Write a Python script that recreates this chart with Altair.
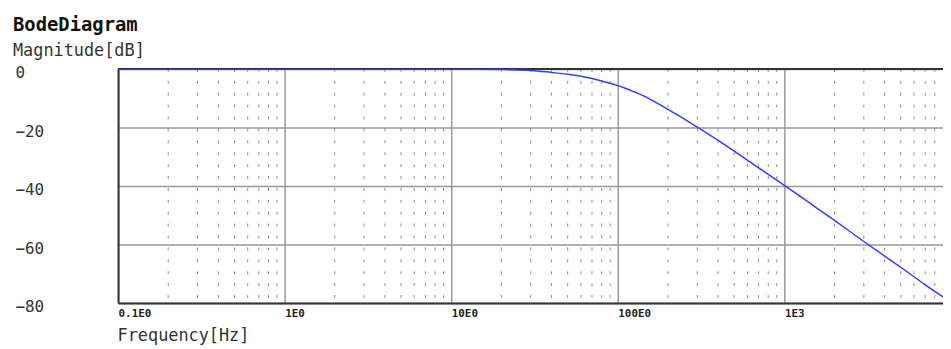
import altair as alt
import pandas as pd

# ---- data ----
freq_hz = [0.1, 1, 10, 20, 30, 40, 50, 60, 70, 80, 90, 100, 110, 120, 130,
           150, 170, 200, 250, 300, 350, 400, 500, 700, 1000, 1500, 2000,
           3000, 4000, 5000, 7000, 8958]
mag_db = [0, 0, 0, -0.2, -0.5, -1.2, -1.8, -2.5, -3.3, -4.1, -4.9, -5.7,
          -6.5, -7.4, -8.2, -9.8, -11.5, -13.8, -17.1, -19.9, -22.3, -24.4,
          -28.1, -33.8, -39.8, -46.8, -51.8, -59.0, -64.0, -67.8, -73.8,
          -77.9]

x_major_ticks = [0.1, 1, 10, 100, 1000]
x_tick_labels = ["0.1E0", "1E0", "10E0", "100E0", "1E3"]
x_minor_grid = [0.2, 0.3, 0.4, 0.5, 0.6, 0.7, 0.8, 0.9,
                2, 3, 4, 5, 6, 7, 8, 9,
                20, 30, 40, 50, 60, 70, 80, 90,
                200, 300, 400, 500, 600, 700, 800, 900,
                2000, 3000, 4000, 5000, 6000, 7000, 8000]
y_ticks = [0, -20, -40, -60, -80]
x_domain = [0.1, 8958]
y_domain = [-80, 0]

curve = pd.DataFrame({"f": freq_hz, "db": mag_db})
minor = pd.DataFrame({"f": x_minor_grid})

MONO = "DejaVu Sans Mono"
xscale = alt.Scale(type="log", domain=x_domain, nice=False)
yscale = alt.Scale(domain=y_domain, nice=False)

label_expr = ("[" + ",".join(f"'{s}'" for s in x_tick_labels) +
              "][round(log(datum.value)/LN10)+1]")

x_axis = alt.Axis(values=x_major_ticks, labelExpr=label_expr,
                  grid=True, gridColor="#999999", gridWidth=1.5,
                  ticks=False, tickSize=0,
                  domainColor="#333333", domainWidth=2,
                  labelAlign="left", labelBaseline="middle",
                  labelPadding=11, labelFont=MONO,
                  labelFontWeight="bold", labelFontSize=11,
                  labelColor="#222222", labelFlush=False,
                  labelOverlap=False,
                  title="Frequency[Hz]", titleFont=MONO,
                  titleFontSize=17, titleFontWeight="normal",
                  titleColor="#333333", titleAnchor="start",
                  titleAlign="left", titleBaseline="alphabetic",
                  titleX=-1, titleY=38)

minor_rules = alt.Chart(minor).mark_rule(
    color="#8c8c8c", strokeWidth=1, strokeDash=[3, 9], clip=True
).encode(x=alt.X("f:Q", scale=xscale, axis=x_axis))

top_border = alt.Chart(minor).mark_rule(
    color="#333333", strokeWidth=2
).encode(y=alt.datum(0, scale=yscale))

line = alt.Chart(curve).mark_line(
    color="#2f3fff", strokeWidth=1.5, clip=True, interpolate="monotone"
).encode(
    x=alt.X("f:Q", scale=xscale, axis=x_axis),
    y=alt.Y("db:Q", scale=yscale,
            axis=alt.Axis(values=y_ticks, grid=True, gridColor="#999999",
                          gridWidth=1.5, ticks=False, tickSize=0,
                          domainColor="#333333", domainWidth=2,
                          labelAlign="left", labelBaseline="middle",
                          labelPadding=104, labelOffset=4, labelFont=MONO,
                          labelFontSize=16, labelColor="#333333",
                          title=None)),
)

chart = alt.layer(minor_rules, top_border, line).properties(
    width=832, height=236,
    padding={"left": 111, "top": 60, "right": 0, "bottom": 45},
    autosize=alt.AutoSizeParams(type="none"),
    title=alt.TitleParams(
        text="BodeDiagram", subtitle="Magnitude[dB]",
        anchor="start", frame="group", dx=-106, offset=6,
        font=MONO, fontSize=19, fontWeight="bold", color="#111111",
        subtitleFont=MONO, subtitleFontSize=17, subtitleColor="#333333",
        subtitlePadding=8,
    ),
).configure_view(stroke=None).configure(background="white")

chart.save("out.html", embed_options={"renderer": "svg", "actions": False})
